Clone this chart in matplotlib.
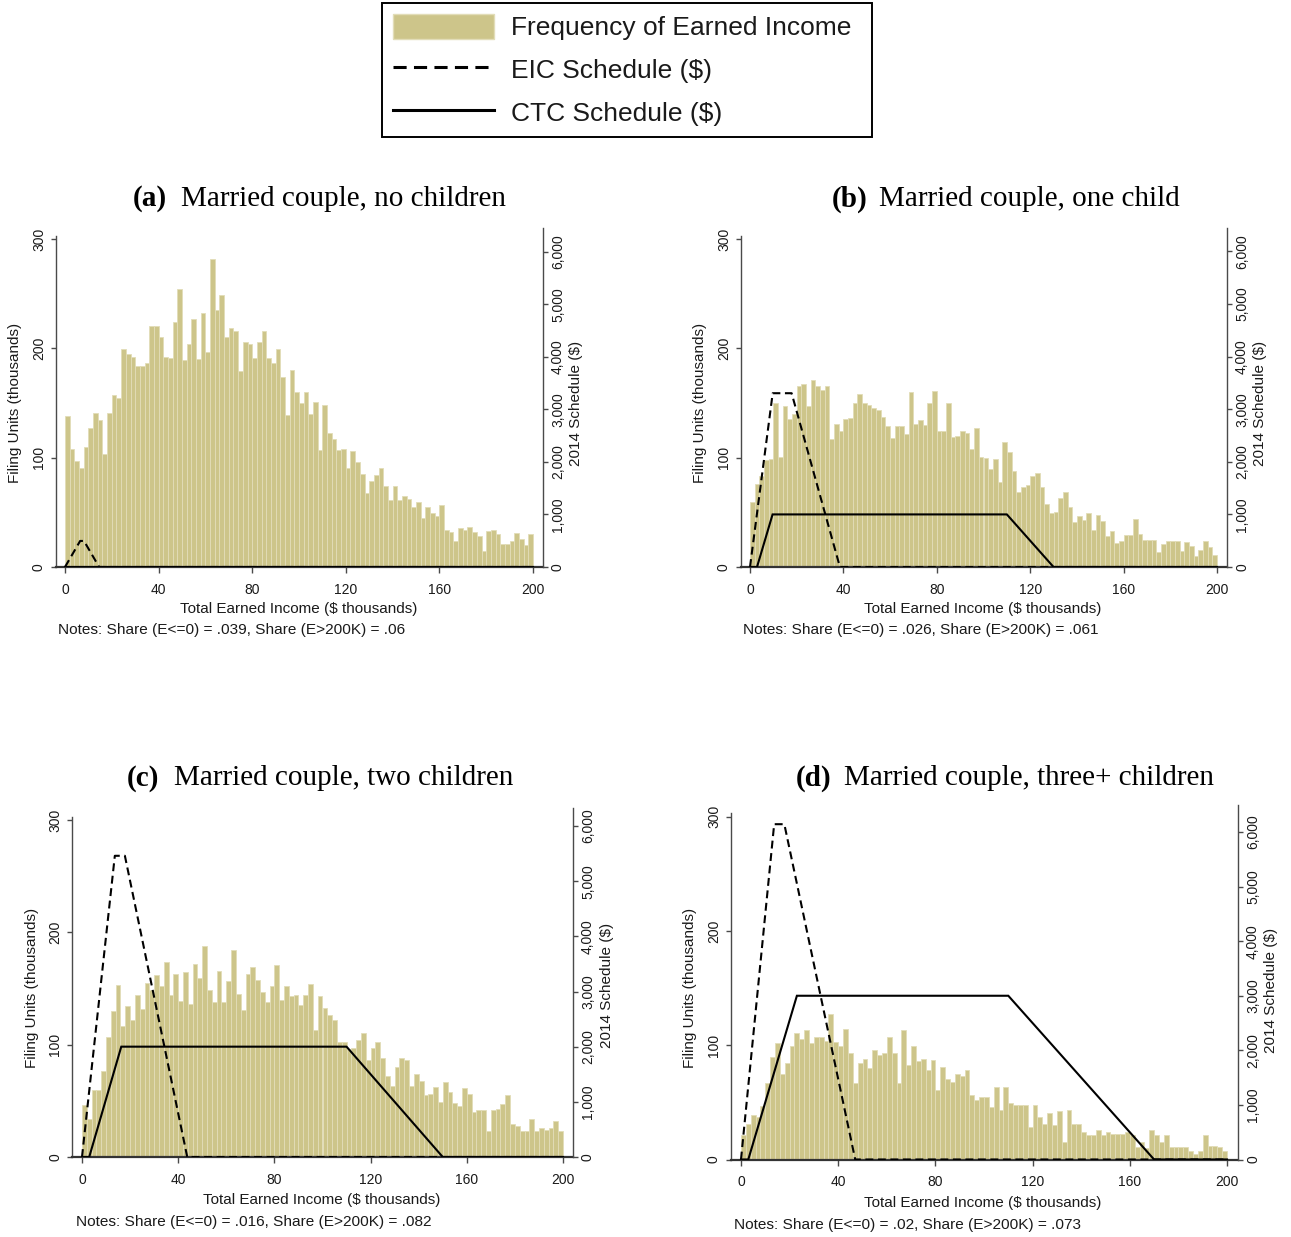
import numpy as np
import matplotlib
matplotlib.use("Agg")
import matplotlib.pyplot as plt
from matplotlib.patches import Patch
from matplotlib.lines import Line2D

# ---------------- data ----------------
bin_width = 2  # $ thousands per histogram bin, bins start at 0

freq_a = [138, 108, 97, 91, 110, 127, 141, 134, 103, 141,
          157, 155, 199, 195, 192, 184, 184, 187, 220, 220,
          210, 192, 191, 224, 254, 189, 204, 227, 190, 232,
          197, 282, 235, 249, 210, 219, 216, 179, 206, 204,
          191, 206, 216, 191, 187, 199, 174, 139, 180, 160,
          150, 160, 140, 151, 107, 148, 123, 117, 107, 108,
          91, 106, 96, 85, 68, 79, 84, 91, 74, 61,
          74, 61, 65, 62, 55, 59, 45, 55, 49, 47,
          57, 34, 32, 24, 36, 34, 37, 32, 28, 15,
          33, 34, 30, 21, 21, 24, 31, 26, 20, 30]

freq_b = [59, 76, 83, 98, 99, 150, 101, 147, 135, 140,
          166, 167, 147, 171, 166, 162, 166, 117, 131, 124,
          135, 136, 150, 158, 150, 148, 145, 144, 137, 129,
          118, 129, 129, 122, 160, 131, 134, 130, 150, 161,
          124, 124, 150, 119, 120, 124, 123, 108, 127, 101,
          100, 90, 99, 78, 114, 105, 88, 69, 73, 75,
          83, 86, 73, 58, 49, 50, 63, 69, 55, 41,
          47, 43, 49, 34, 48, 42, 28, 33, 22, 24,
          29, 29, 44, 30, 25, 25, 25, 14, 21, 24,
          24, 24, 15, 23, 19, 10, 16, 24, 18, 11]

freq_c = [46, 34, 60, 60, 77, 107, 130, 153, 117, 134,
          122, 144, 132, 155, 149, 162, 152, 174, 144, 163,
          139, 165, 136, 172, 159, 188, 149, 138, 166, 138,
          157, 184, 145, 131, 163, 169, 158, 147, 138, 152,
          171, 140, 152, 143, 144, 135, 144, 154, 113, 143,
          133, 126, 122, 102, 102, 96, 97, 104, 110, 86,
          97, 102, 88, 72, 63, 80, 88, 86, 63, 74,
          68, 55, 56, 62, 49, 67, 58, 48, 45, 61,
          56, 40, 42, 42, 23, 42, 43, 47, 55, 29,
          28, 23, 23, 34, 23, 26, 24, 26, 32, 23]

freq_d = [21, 31, 39, 37, 47, 67, 90, 102, 75, 84,
          99, 111, 105, 113, 102, 107, 107, 104, 127, 103,
          99, 114, 93, 67, 84, 88, 80, 96, 91, 93,
          107, 93, 67, 113, 83, 99, 86, 88, 78, 87,
          61, 81, 70, 68, 75, 73, 78, 56, 52, 55,
          55, 46, 63, 43, 63, 49, 48, 48, 48, 28,
          48, 37, 31, 41, 30, 42, 15, 43, 31, 31,
          24, 21, 21, 26, 21, 24, 22, 22, 22, 24,
          21, 11, 15, 10, 26, 21, 15, 21, 11, 11,
          11, 11, 7, 5, 7, 21, 12, 12, 11, 7]

# schedules: income ($ thousands) -> credit ($)
eic_x_a = [0, 6.48, 8.11, 14.59, 200]
eic_y_a = [0, 496, 496, 0, 0]
ctc_x_a = [0, 200]
ctc_y_a = [0, 0]

eic_x_b = [0, 9.72, 17.83, 38.51, 200]
eic_y_b = [0, 3305, 3305, 0, 0]
ctc_x_b = [0, 3, 9.67, 110, 130, 200]
ctc_y_b = [0, 0, 1000, 1000, 0, 0]

eic_x_c = [0, 13.65, 17.83, 43.76, 200]
eic_y_c = [0, 5460, 5460, 0, 0]
ctc_x_c = [0, 3, 16.33, 110, 150, 200]
ctc_y_c = [0, 0, 2000, 2000, 0, 0]

eic_x_d = [0, 13.65, 17.83, 47.0, 200]
eic_y_d = [0, 6143, 6143, 0, 0]
ctc_x_d = [0, 3, 23, 110, 170, 200]
ctc_y_d = [0, 0, 3000, 3000, 0, 0]

tags = ["(a)", "(b)", "(c)", "(d)"]
titles = ["Married couple, no children", "Married couple, one child",
          "Married couple, two children", "Married couple, three+ children"]
notes = ["Notes: Share (E<=0) = .039, Share (E>200K) = .06",
         "Notes: Share (E<=0) = .026, Share (E>200K) = .061",
         "Notes: Share (E<=0) = .016, Share (E>200K) = .082",
         "Notes: Share (E<=0) = .02, Share (E>200K) = .073"]

x_ticks = [0, 40, 80, 120, 160, 200]
left_ticks = [0, 100, 200, 300]
right_ticks = [0, 1000, 2000, 3000, 4000, 5000, 6000]

legend_labels = ["Frequency of Earned Income", "EIC Schedule ($)", "CTC Schedule ($)"]

# ---------------- style ----------------
W, H = 1291, 1237
BAR = "#CDC58A"
BAR_EDGE = "#E2DDB8"
AXC = "#4a4a4a"
TXT = "#1a1a1a"
SANS = ["Liberation Sans", "DejaVu Sans"]
SERIF = ["Liberation Serif", "DejaVu Serif"]
PX = 0.72  # points per pixel at dpi 100

plt.rcParams["font.family"] = SANS

fig = plt.figure(figsize=(W / 100, H / 100), dpi=100)

# layout in pixels: L/R spines, x0/x1 data 0/200, y0 data zero, T top,
# y300 left 300 tick, y6000 right 6000 tick
layout = [
    dict(L=56, R=543, x0=65, x1=533, y0=567, T=228, y300=239, y6000=251.7,
         ylab=(15, 403), rlab=(576, 403), xlab=(299, 609), note=(58, 630),
         tag=133, ttl=181, ty=199),
    dict(L=741, R=1227, x0=750, x1=1217, y0=567, T=228, y300=239, y6000=251.5,
         ylab=(700, 403), rlab=(1260, 403), xlab=(983, 609), note=(743, 630),
         tag=832, ttl=879, ty=199),
    dict(L=72, R=573, x0=82, x1=563, y0=1157, T=808, y300=820, y6000=826,
         ylab=(32, 988), rlab=(607, 985), xlab=(322, 1200), note=(76, 1222),
         tag=127, ttl=174, ty=778),
    dict(L=731, R=1238, x0=741, x1=1227, y0=1159.5, T=805, y300=816.5, y6000=832,
         ylab=(690, 988), rlab=(1271, 990), xlab=(983, 1203), note=(734, 1225),
         tag=796, ttl=844, ty=778),
]

freqs = [freq_a, freq_b, freq_c, freq_d]
eics = [(eic_x_a, eic_y_a), (eic_x_b, eic_y_b), (eic_x_c, eic_y_c), (eic_x_d, eic_y_d)]
ctcs = [(ctc_x_a, ctc_y_a), (ctc_x_b, ctc_y_b), (ctc_x_c, ctc_y_c), (ctc_x_d, ctc_y_d)]

for i, lay in enumerate(layout):
    L, R, x0, x1, y0, T = lay["L"], lay["R"], lay["x0"], lay["x1"], lay["y0"], lay["T"]
    rect = [L / W, 1 - y0 / H, (R - L) / W, (y0 - T) / H]
    ax = fig.add_axes(rect)
    ppu = (x1 - x0) / 200.0
    ax.set_xlim(-(x0 - L) / ppu, 200 + (R - x1) / ppu)
    ppl = (y0 - lay["y300"]) / 300.0
    ax.set_ylim(0, (y0 - T) / ppl)

    freq = freqs[i]
    edges = np.arange(len(freq)) * bin_width
    ax.bar(edges, freq, width=bin_width, align="edge", color=BAR,
           edgecolor=BAR_EDGE, linewidth=0.6, zorder=1)

    ax2 = ax.twinx()
    ppr = (y0 - lay["y6000"]) / 6000.0
    ax2.set_ylim(0, (y0 - T) / ppr)
    ex, ey = eics[i]
    cx, cy = ctcs[i]
    ax2.plot(cx, cy, color="black", lw=1.5, solid_joinstyle="miter", zorder=3)
    ax2.plot(ex, ey, color="black", lw=1.5, linestyle=(0, (3.8, 2.2)), zorder=4)

    # spines
    for s in ["top", "right"]:
        ax.spines[s].set_visible(False)
    for s in ["top", "left", "bottom"]:
        ax2.spines[s].set_visible(False)
    ax.spines["left"].set_bounds(0, 303)
    ax.spines["left"].set_color(AXC)
    ax.spines["left"].set_linewidth(1.0)
    ax.spines["bottom"].set_color("#333333")
    ax.spines["bottom"].set_linewidth(1.6)
    ax.spines["bottom"].set_zorder(5)
    ax2.spines["right"].set_color(AXC)
    ax2.spines["right"].set_linewidth(1.0)

    ax.set_xticks(x_ticks)
    ax.set_xticklabels([str(v) for v in x_ticks])
    ax.set_yticks(left_ticks)
    ax.set_yticklabels([str(v) for v in left_ticks], rotation=90, va="center")
    ax2.set_yticks(right_ticks)
    ax2.set_yticklabels([f"{v:,}" for v in right_ticks], rotation=90, va="center")

    ax.tick_params(axis="x", length=6 * PX, width=1, color=AXC, pad=10 * PX,
                   labelsize=10, labelcolor=TXT)
    ax.tick_params(axis="y", length=5 * PX, width=1, color=AXC, pad=5 * PX,
                   labelsize=10, labelcolor=TXT)
    ax2.tick_params(axis="y", length=5 * PX, width=1, color=AXC, pad=3 * PX,
                    labelsize=10, labelcolor=TXT)

    def axfrac(px, py):
        return (px - L) / (R - L), (y0 - py) / (y0 - T)

    ax.set_xlabel("Total Earned Income ($ thousands)", fontsize=11, color=TXT, va="center")
    ax.xaxis.set_label_coords(*axfrac(*lay["xlab"]))
    ax.set_ylabel("Filing Units (thousands)", fontsize=11, color=TXT, va="center")
    ax.yaxis.set_label_coords(*axfrac(*lay["ylab"]))
    ax2.set_ylabel("2014 Schedule ($)", fontsize=11, color=TXT, va="center", rotation=90)
    ax2.yaxis.set_label_coords(*axfrac(*lay["rlab"]))

    fig.text(lay["note"][0] / W, 1 - lay["note"][1] / H, notes[i], fontsize=11.1,
             color=TXT, ha="left", va="center")
    fig.text(lay["tag"] / W, 1 - lay["ty"] / H, tags[i], fontsize=21,
             family=SERIF, weight="bold", ha="left", va="center", color="black")
    fig.text(lay["ttl"] / W, 1 - lay["ty"] / H, titles[i], fontsize=21,
             family=SERIF, ha="left", va="center", color="black")

# legend
handles = [Patch(facecolor=BAR, edgecolor=BAR_EDGE, linewidth=1.0),
           Line2D([], [], color="black", lw=2.2, linestyle=(0, (4.3, 2.4))),
           Line2D([], [], color="black", lw=2.2)]
leg = fig.legend(handles, legend_labels, loc="upper left",
                 bbox_to_anchor=(382 / W, 1 - 138 / H, 490 / W, 135 / H),
                 mode="expand", borderaxespad=0,
                 fontsize=19, handlelength=3.85, handleheight=1.1,
                 handletextpad=0.62, borderpad=0.4, labelspacing=0.62,
                 fancybox=False, framealpha=1, edgecolor="black")
leg.get_frame().set_linewidth(1.4)
for t in leg.get_texts():
    t.set_color(TXT)

fig.savefig("out.png", dpi=100)
